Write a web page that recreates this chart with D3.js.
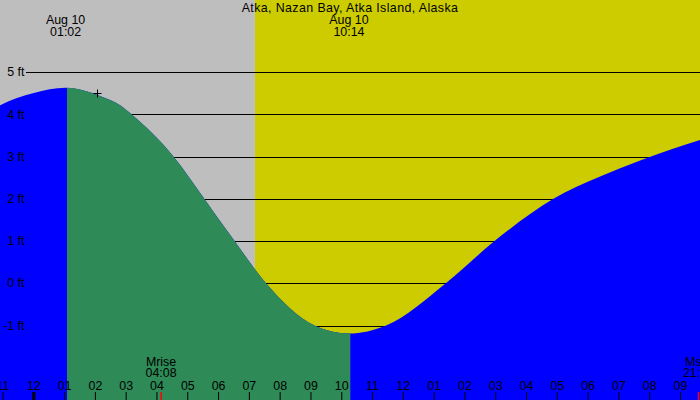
<!DOCTYPE html>
<html>
<head>
<meta charset="utf-8">
<script src="https://cdn.jsdelivr.net/npm/d3@7"></script>
<style>
  body { margin: 0; }
  svg { display: block; font-family: "Liberation Sans", Arial, sans-serif; font-size: 12.4px; }
</style>
</head>
<body>
<div class="tide-chart"></div>
<script>
// tide height (ft), hours after midnight Aug 10
const tideHours = [-1.5, -1.09, 0, 1.033, 2.15, 2.80, 3.18, 4.54, 5.54, 6.52, 7.54, 9.11, 10.233, 11.44, 13.38, 14.96, 16.86, 18.39, 19.69, 21.64, 22.2];
const tideFeet  = [4.04, 4.22, 4.51, 4.635, 4.44, 4.22, 4.0, 3.0, 2.0, 1.0, 0.0, -1.0, -1.19, -1.0, 0.0, 1.0, 2.0, 2.53, 2.91, 3.40, 3.52];

const feetTicks = [-1, 0, 1, 2, 3, 4, 5];
const hourTicks = d3.range(-1, 22);

const title = "Atka, Nazan Bay, Atka Island, Alaska";
const eventDate = "Aug 10";
const eventHours = [1.033, 10.233];   // high, low
const eventTimes = ["01:02", "10:14"];

const moonHours = [4.133, 21.583];
const moonNames = ["Mrise", "Mset"];
const moonTimes = ["04:08", "21:35"];

const sunrise = 7.18, sunset = 22.6;
const nowHour = 2.04, nowFeet = 4.52;

function drawTideChart() {
    const width = 700, height = 400;

    const svg = d3.select(".tide-chart").append("svg")
        .attr("width", width)
        .attr("height", height);

    const x = d3.scaleLinear().domain([0, 20]).range([33.8, 649.7]);
    const y = d3.scaleLinear().domain([-1, 5]).range([325.5, 72.3]);
    const crisp = v => Math.round(v) + 0.5;

    // night / day
    svg.append("rect")
        .attr("x", 0).attr("y", 0)
        .attr("width", x(sunrise)).attr("height", height)
        .attr("fill", "#bebebe");
    svg.append("rect")
        .attr("x", x(sunrise)).attr("y", 0)
        .attr("width", x(sunset) - x(sunrise)).attr("height", height)
        .attr("fill", "#cccc00");

    // grid
    svg.selectAll(".grid")
        .data(feetTicks)
        .enter()
        .append("line")
            .attr("x1", 26).attr("x2", width)
            .attr("y1", d => crisp(y(d))).attr("y2", d => crisp(y(d)))
            .attr("stroke", "#000")
            .attr("stroke-width", 1);

    const data = tideHours.map((h, i) => ({ hour: h, feet: tideFeet[i] }));
    const area = d3.area()
        .x(d => x(d.hour))
        .y0(height)
        .y1(d => y(d.feet))
        .curve(d3.curveMonotoneX);

    svg.append("path")
        .attr("d", area(data))
        .attr("fill", "#0000ff");

    // falling tide, high -> low
    svg.append("clipPath").attr("id", "falling")
        .append("rect")
            .attr("x", x(eventHours[0]) + 1.4).attr("y", 0)
            .attr("width", x(eventHours[1]) - x(eventHours[0])).attr("height", height);
    svg.append("path")
        .attr("d", area(data))
        .attr("fill", "#2e8b57")
        .attr("clip-path", "url(#falling)");

    // feet labels
    svg.selectAll(".ylab")
        .data(feetTicks)
        .enter()
        .append("text")
            .attr("x", 24.5)
            .attr("y", d => y(d) + 4)
            .attr("text-anchor", "end")
            .text(d => d + " ft");

    // hour ticks
    svg.selectAll(".tick")
        .data(hourTicks)
        .enter()
        .append("line")
            .attr("x1", d => x(d)).attr("x2", d => x(d))
            .attr("y1", 392).attr("y2", height)
            .attr("stroke", "#000")
            .attr("stroke-width", d => d % 24 === 0 ? 3 : 1);
    svg.selectAll(".hlab")
        .data(hourTicks)
        .enter()
        .append("text")
            .attr("x", d => x(d))
            .attr("y", 390)
            .attr("text-anchor", "middle")
            .text(d => {
                const h = ((d % 12) + 12) % 12;
                return d3.format("02")(h === 0 ? 12 : h);
            });

    // moon
    svg.selectAll(".moon")
        .data(moonHours)
        .enter()
        .append("line")
            .attr("x1", d => x(d)).attr("x2", d => x(d))
            .attr("y1", 392).attr("y2", height)
            .attr("stroke", "#ff0000")
            .attr("stroke-width", 1.5);
    moonHours.forEach((h, i) => {
        svg.append("text").attr("x", x(h)).attr("y", 366)
            .attr("text-anchor", "middle").text(moonNames[i]);
        svg.append("text").attr("x", x(h)).attr("y", 377)
            .attr("text-anchor", "middle").text(moonTimes[i]);
    });

    // high / low labels
    eventHours.forEach((h, i) => {
        svg.append("text").attr("x", x(h)).attr("y", 24)
            .attr("text-anchor", "middle").text(eventDate);
        svg.append("text").attr("x", x(h)).attr("y", 36)
            .attr("text-anchor", "middle").text(eventTimes[i]);
    });

    svg.append("text")
        .attr("x", width / 2).attr("y", 12)
        .attr("text-anchor", "middle")
        .style("letter-spacing", "0.4px")
        .text(title);

    // current time marker
    const cx = Math.round(x(nowHour)) + 0.5, cy = Math.round(y(nowFeet)) + 0.5;
    svg.append("path")
        .attr("d", `M${cx - 4},${cy}H${cx + 4}M${cx},${cy - 4}V${cy + 4}`)
        .attr("stroke", "#000")
        .attr("fill", "none");
}

drawTideChart();
</script>
</body>
</html>
